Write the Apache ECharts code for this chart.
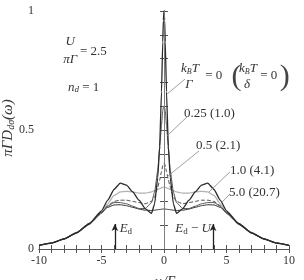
<!DOCTYPE html>
<html><head><meta charset="utf-8">
<script src="https://cdn.jsdelivr.net/npm/echarts@6/dist/echarts.min.js"></script>
<style>html,body{margin:0;padding:0;background:#fff}#c{width:304px;height:280px}</style>
</head><body><div id="c"></div>
<script>
const xs = [-10,-9,-8,-7,-6,-5,-4.5,-4,-3.5,-3,-2.5,-2,-1.5,-1,-0.75,-0.5,-0.35,-0.2,-0.1,-0.05,0,0.05,0.1,0.2,0.35,0.5,0.75,1,1.5,2,2.5,3,3.5,4,4.5,5,6,7,8,9,10];
const t0 = [0.015,0.025,0.042,0.068,0.105,0.16,0.205,0.25,0.277,0.268,0.24,0.205,0.17,0.15,0.19,0.30,0.43,0.66,0.87,0.96,1.0,0.96,0.87,0.66,0.43,0.30,0.19,0.15,0.17,0.205,0.24,0.268,0.277,0.25,0.205,0.16,0.105,0.068,0.042,0.025,0.015];
const t025 = [0.015,0.025,0.042,0.067,0.103,0.15,0.18,0.195,0.195,0.19,0.18,0.17,0.17,0.195,0.24,0.33,0.42,0.52,0.58,0.595,0.6,0.595,0.58,0.52,0.42,0.33,0.24,0.195,0.17,0.17,0.18,0.19,0.195,0.195,0.18,0.15,0.103,0.067,0.042,0.025,0.015];
const t05 = [0.015,0.025,0.042,0.067,0.103,0.15,0.182,0.2,0.205,0.205,0.2,0.195,0.19,0.2,0.22,0.26,0.29,0.325,0.35,0.358,0.36,0.358,0.35,0.325,0.29,0.26,0.22,0.2,0.19,0.195,0.2,0.205,0.205,0.2,0.182,0.15,0.103,0.067,0.042,0.025,0.015];
const t1 = [0.015,0.025,0.042,0.067,0.104,0.152,0.19,0.225,0.24,0.242,0.24,0.235,0.235,0.24,0.245,0.25,0.254,0.257,0.259,0.26,0.26,0.26,0.259,0.257,0.254,0.25,0.245,0.24,0.235,0.235,0.24,0.242,0.24,0.225,0.19,0.152,0.104,0.067,0.042,0.025,0.015];
const t5 = [0.016,0.026,0.043,0.07,0.108,0.155,0.175,0.185,0.186,0.182,0.175,0.168,0.163,0.162,0.163,0.165,0.166,0.167,0.168,0.168,0.168,0.168,0.168,0.167,0.166,0.165,0.163,0.162,0.163,0.168,0.175,0.182,0.186,0.185,0.175,0.155,0.108,0.07,0.043,0.026,0.016];
const xTickLabels = [-10,-5,0,5,10];
const yTickLabels = [0,0.5,1];
const levelX = [-3.93, 3.93];
const levelTop = 0.105;
const leaders = [[[1.68,0.714],[0.24,0.651]],[[1.84,0.555],[0.24,0.475]],[[2.8,0.412],[0.24,0.303]],[[5.28,0.324],[3.6,0.24]],[[5.28,0.231],[4.64,0.197]]];

const F = 'Liberation Serif, DejaVu Serif, serif';
const chart = echarts.init(document.getElementById('c'));
const pts = a => xs.map((x,i)=>[x,a[i]]);
const axisCommon = {type:'value', axisLine:{show:true,lineStyle:{color:'#555',width:1}}, axisTick:{show:true,inside:true,length:4,lineStyle:{color:'#555'}}, splitLine:{show:false}};
const mkLine = (name,data,color,width,type) => ({name,type:'line',data:pts(data),showSymbol:false,smooth:0.15,smoothMonotone:'x',lineStyle:{color,width,type:type||'solid'},silent:true,animation:false,z:3});
chart.setOption({
  animation:false,
  backgroundColor:'#fff',
  grid:{left:39,right:15,top:11,bottom:31,containLabel:false,outerBoundsMode:'none'},
  xAxis:[
    Object.assign({},axisCommon,{min:-10,max:10,interval:1,position:'bottom',
      axisLabel:{color:'#333',fontFamily:F,fontSize:12,margin:6,formatter:v=>xTickLabels.indexOf(v)>=0?String(v):''},
      name:'ω/Γ',nameLocation:'middle',nameGap:26,nameTextStyle:{fontFamily:F,fontSize:14,fontStyle:'italic',color:'#333'}}),
    Object.assign({},axisCommon,{min:-10,max:10,interval:1,position:'top',axisLabel:{show:false}})
  ],
  yAxis:[
    Object.assign({},axisCommon,{min:0,max:1,interval:0.1,position:'left',
      axisLabel:{color:'#333',fontFamily:F,fontSize:12,margin:5,formatter:v=>{for(const t of yTickLabels){if(Math.abs(v-t)<1e-6)return String(t);}return '';}}}),
    Object.assign({},axisCommon,{min:0,max:1,interval:0.1,position:'right',axisLabel:{show:false}})
  ],
  series:[
    {type:'line',data:[],silent:true,markLine:{silent:true,symbol:['none','none'],animation:false,lineStyle:{color:'#888',width:0.8,type:'solid'},label:{show:false},
      data:leaders.map(s=>[{coord:s[0]},{coord:s[1]}]).concat([[{coord:[0,0]},{coord:[0,1]}]])}},
    {type:'line',data:[],silent:true,markLine:{silent:true,symbol:['none','arrow'],symbolSize:[5,7],animation:false,lineStyle:{color:'#222',width:1.3,type:'solid'},label:{show:false},
      data:levelX.map(x=>[{coord:[x,0]},{coord:[x,levelTop]}])}},
    mkLine('1.0',t1,'#b0b0b0',1.2),
    mkLine('5.0',t5,'#333',1),
    mkLine('0.5',t05,'#444',1,[4,2]),
    mkLine('0.25',t025,'#555',1),
    mkLine('0',t0,'#2a2a2a',1.3)
  ]
});
const P = (x,y)=>chart.convertToPixel({xAxisIndex:0,yAxisIndex:0},[x,y]);
const txt = (x,y,text,opt)=>{const p=P(x,y);return Object.assign({type:'text',x:p[0],y:p[1],style:Object.assign({text,fill:'#333',font:'13px '+F,textAlign:'left',textVerticalAlign:'middle'},opt||{})});};
const it = 'italic 13px '+F;
const kbt = {i:{font:it,fill:'#333'},s:{font:'italic 8px '+F,fill:'#333',verticalAlign:'bottom',padding:[6,0,0,0]}};
const mid = P(-10,0.5);
chart.setOption({graphic:[
  {type:'text',x:mid[0]-31,y:mid[1]-2,rotation:Math.PI/2,style:{text:'{a|πΓD}{s|dσ}{a|(ω)}',textAlign:'center',textVerticalAlign:'middle',
    rich:{a:{font:'italic 15px '+F,fill:'#333'},s:{font:'italic 10px '+F,fill:'#333',verticalAlign:'bottom',padding:[6,0,0,0]}}}},
  txt(-7.5,0.87,'U',{font:it,textAlign:'center'}),
  txt(-7.5,0.795,'πΓ',{font:it,textAlign:'center'}),
  txt(-6.72,0.83,'= 2.5'),
  txt(-7.68,0.68,'{i|n}{s|d}{r| = 1}',{rich:{i:{font:it,fill:'#333'},s:{font:'italic 9px '+F,fill:'#333',verticalAlign:'bottom',padding:[5,0,0,0]},r:{font:'13px '+F,fill:'#333'}}}),
  txt(2.08,0.756,'{i|k}{s|B}{i|T}',{textAlign:'center',rich:kbt}),
  txt(2.0,0.69,'Γ',{font:it,textAlign:'center'}),
  txt(3.3,0.727,'= 0'),
  txt(5.4,0.724,'(',{font:'30px '+F,fill:'#444'}),
  txt(6.72,0.756,'{i|k}{s|B}{i|T}',{textAlign:'center',rich:kbt}),
  txt(6.64,0.69,'δ',{font:it,textAlign:'center'}),
  txt(7.7,0.727,'= 0'),
  txt(9.25,0.724,')',{font:'30px '+F,fill:'#444'}),
  txt(1.6,0.567,'0.25 (1.0)'),
  txt(2.56,0.433,'0.5 (2.1)'),
  txt(5.28,0.328,'1.0 (4.1)'),
  txt(5.2,0.235,'5.0 (20.7)'),
  txt(-3.55,0.084,'{i|E}{s|d}',{rich:{i:{font:it,fill:'#333'},s:{font:'9px '+F,fill:'#333',verticalAlign:'bottom',padding:[5,0,0,0]}}}),
  txt(3.75,0.084,'{i|E}{s|d}{r| − }{i|U}',{textAlign:'right',rich:{i:{font:it,fill:'#333'},s:{font:'9px '+F,fill:'#333',verticalAlign:'bottom',padding:[5,0,0,0]},r:{font:'13px '+F,fill:'#333'}}})
]});
</script></body></html>
